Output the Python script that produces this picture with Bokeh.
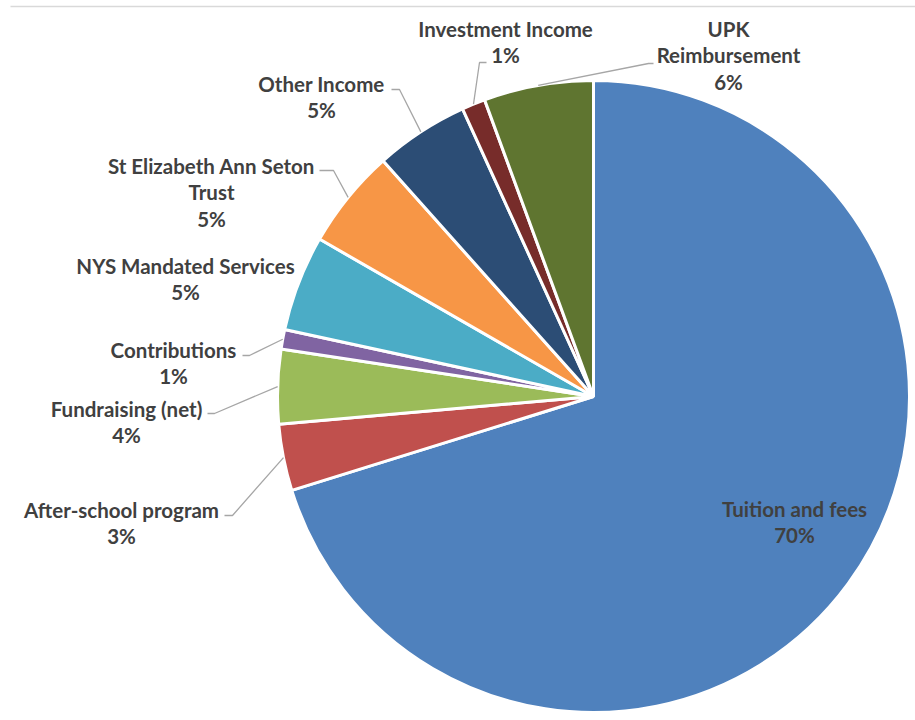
import math
from bokeh.plotting import figure
from bokeh.models import Range1d, ColumnDataSource
from bokeh.core.properties import value
from bokeh.embed import file_html
from bokeh.resources import INLINE

# ---- data ----
categories = ["Tuition and fees", "After-school program", "Fundraising (net)",
              "Contributions", "NYS Mandated Services", "St Elizabeth Ann Seton Trust",
              "Other Income", "Investment Income", "UPK Reimbursement"]
shares = [70.2, 3.4, 3.8, 1.0, 4.9, 5.1, 4.8, 1.2, 5.6]
colors = ["#4F81BD", "#C0504D", "#9BBB59", "#8064A2", "#4BACC6",
          "#F79646", "#2C4D75", "#772C2A", "#5F7530"]

# ---- layout (picture pixel coords) ----
W, H = 915, 720
CX, CY, R = 593, 396, 316
def Y(v):
    return H - v

label_lines = {
    "St Elizabeth Ann Seton Trust": ["St Elizabeth Ann Seton", "Trust"],
    "UPK Reimbursement": ["UPK", "Reimbursement"],
}
# centre x, first line y
label_pos = {
    "Tuition and fees": (794, 508),
    "After-school program": (121, 509),
    "Fundraising (net)": (126, 408),
    "Contributions": (173, 349),
    "NYS Mandated Services": (185, 265),
    "St Elizabeth Ann Seton Trust": (211, 165),
    "Other Income": (321, 83),
    "Investment Income": (505, 28),
    "UPK Reimbursement": (728, 28),
}
# leader anchor near the text and tick end
leader = {
    "After-school program": ((224, 515), (232, 515)),
    "Fundraising (net)": ((207, 413), (214, 413)),
    "Contributions": ((242, 355), (249, 355)),
    "St Elizabeth Ann Seton Trust": ((319, 170), (333, 170)),
    "Other Income": ((391, 89), (399, 89)),
    "Investment Income": ((486, 62), (479, 62)),
    "UPK Reimbursement": ((653, 63), (648, 63)),
}
LINE_GAP = 26.5

p = figure(width=W, height=H, output_backend="svg", toolbar_location=None,
           x_range=Range1d(0, W), y_range=Range1d(0, H),
           min_border=0, outline_line_color=None)
p.axis.visible = False
p.grid.visible = False
p.background_fill_color = "white"

# top rule
p.line([10, W], [Y(6), Y(6)], line_color="#D9D9D9", line_width=1.5)

total = sum(shares)
starts, ends, mids = [], [], []
cum = 0.0
for s in shares:
    a0 = math.pi / 2 - 2 * math.pi * cum / total
    cum += s
    a1 = math.pi / 2 - 2 * math.pi * cum / total
    starts.append(a0)
    ends.append(a1)
    mids.append((a0 + a1) / 2)

src = ColumnDataSource(dict(x=[CX] * len(shares), y=[Y(CY)] * len(shares),
                            start=starts, end=ends, color=colors))
p.wedge(x="x", y="y", radius=R, start_angle="start", end_angle="end",
        direction="clock", fill_color="color", line_color="white",
        line_width=3, source=src)

# leader lines
for cat, m in zip(categories, mids):
    if cat in leader:
        (ax, ay), (tx, ty) = leader[cat]
        px = CX + R * math.cos(m)
        py = Y(CY) + R * math.sin(m)
        p.line([ax, tx, px], [Y(ay), Y(ty), py], line_color="#A6A6A6", line_width=1.3)

# labels
tx_, ty_, tt_ = [], [], []
for cat, s in zip(categories, shares):
    lines = label_lines.get(cat, [cat]) + [f"{round(s)}%"]
    x0, y0 = label_pos[cat]
    for i, t in enumerate(lines):
        tx_.append(x0)
        ty_.append(Y(y0 + i * LINE_GAP))
        tt_.append(t)
p.text(x=tx_, y=ty_, text=tt_, text_align="center", text_baseline="middle",
       text_font=value("Lato"), text_font_style="bold", text_font_size="20.5px",
       text_color="#404040")

open("out.html", "w").write(file_html(p, INLINE))
